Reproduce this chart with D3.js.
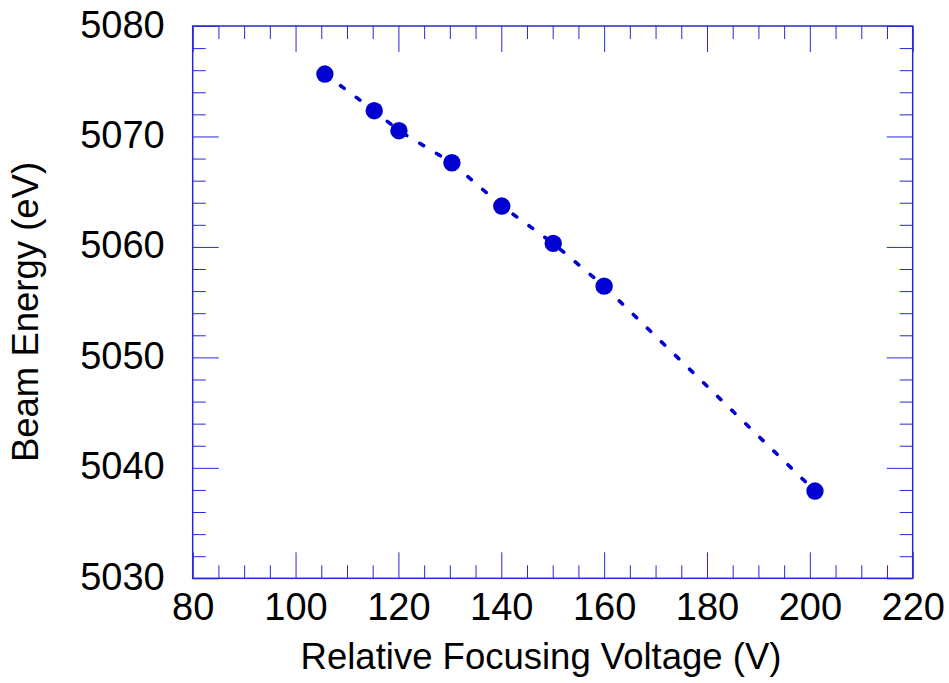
<!DOCTYPE html>
<html><head><meta charset="utf-8">
<script src="https://cdn.jsdelivr.net/npm/d3@7"></script>
<style>
html,body{margin:0;padding:0;background:#fff;}
svg{display:block;font-family:"Liberation Sans",Arial,sans-serif;}
</style></head>
<body>
<svg id="chart" width="949" height="683"></svg>
<script>
// Data
const focusVoltage = [105.7, 115.3, 120.1, 130.4, 140.1, 150.1, 160.0, 201.0];
const beamEnergy   = [5075.65, 5072.33, 5070.52, 5067.62, 5063.7, 5060.32, 5056.45, 5037.9];
const xTicks = [80, 100, 120, 140, 160, 180, 200, 220];
const yTicks = [5030, 5040, 5050, 5060, 5070, 5080];
const xTitle = "Relative Focusing Voltage (V)";
const yTitle = "Beam Energy (eV)";

const svg = d3.select("#chart");
const L = 192.7, R = 912.7, T = 26, B = 578.3;
const x = d3.scaleLinear().domain([80, 220]).range([L, R]);
const y = d3.scaleLinear().domain([5030, 5080]).range([B, T]);
const axisColor = "#2828d8";
const majorLen = 26, minorLen = 13;
const tickFont = 38, titleFont = 36.5;

const xMinor = d3.range(80, 220.01, 5).filter(v => v % 20 !== 0);
const yMinor = d3.range(5030, 5080.01, 2).filter(v => v % 10 !== 0);

function styleAxis(g) {
  g.select(".domain").remove();
  g.selectAll(".tick line").attr("stroke", axisColor).attr("stroke-width", 1);
  g.selectAll("text").attr("fill", "#000").attr("font-size", tickFont)
   .attr("font-family", "'Liberation Sans', Arial, sans-serif");
}

// bottom
svg.append("g").attr("transform", `translate(0,${B})`)
  .call(d3.axisBottom(x).tickValues(xTicks).tickSize(-majorLen).tickPadding(15).tickFormat(d3.format("d")))
  .call(styleAxis)
  .call(g => g.selectAll("text").attr("dy", "0.71em"));
svg.append("g").attr("transform", `translate(0,${B})`)
  .call(d3.axisBottom(x).tickValues(xMinor).tickSize(-minorLen).tickFormat(""))
  .call(styleAxis);
// top
svg.append("g").attr("transform", `translate(0,${T})`)
  .call(d3.axisTop(x).tickValues(xTicks).tickSize(-majorLen).tickFormat(""))
  .call(styleAxis);
svg.append("g").attr("transform", `translate(0,${T})`)
  .call(d3.axisTop(x).tickValues(xMinor).tickSize(-minorLen).tickFormat(""))
  .call(styleAxis);
// left
svg.append("g").attr("transform", `translate(${L},0)`)
  .call(d3.axisLeft(y).tickValues(yTicks).tickSize(-majorLen).tickPadding(28).tickFormat(d3.format("d")))
  .call(styleAxis)
  .call(g => g.selectAll("text").attr("dy", "0.29em"));
svg.append("g").attr("transform", `translate(${L},0)`)
  .call(d3.axisLeft(y).tickValues(yMinor).tickSize(-minorLen).tickFormat(""))
  .call(styleAxis);
// right
svg.append("g").attr("transform", `translate(${R},0)`)
  .call(d3.axisRight(y).tickValues(yTicks).tickSize(-majorLen).tickFormat(""))
  .call(styleAxis);
svg.append("g").attr("transform", `translate(${R},0)`)
  .call(d3.axisRight(y).tickValues(yMinor).tickSize(-minorLen).tickFormat(""))
  .call(styleAxis);

// frame
svg.append("rect").attr("x", L).attr("y", T).attr("width", R - L).attr("height", B - T)
  .attr("fill", "none").attr("stroke", axisColor).attr("stroke-width", 1.5);

// dotted line
const pts = focusVoltage.map((v, i) => [v, beamEnergy[i]]);
svg.append("path").datum(pts)
  .attr("d", d3.line().x(d => x(d[0])).y(d => y(d[1])))
  .attr("fill", "none").attr("stroke", "#0000d0").attr("stroke-width", 3.6)
  .attr("stroke-linecap", "round").attr("stroke-dasharray", "4.5 15.1");

// markers
svg.append("g").selectAll("circle").data(pts).join("circle")
  .attr("cx", d => x(d[0])).attr("cy", d => y(d[1])).attr("r", 8.7)
  .attr("fill", "#0000d0");

// titles
svg.append("text").attr("x", 541).attr("y", 669)
  .attr("text-anchor", "middle").attr("font-size", titleFont).attr("fill", "#000").text(xTitle);
svg.append("text").attr("transform", `translate(38,312) rotate(-90)`)
  .attr("text-anchor", "middle").attr("font-size", titleFont).attr("fill", "#000").text(yTitle);
</script>
</body></html>
